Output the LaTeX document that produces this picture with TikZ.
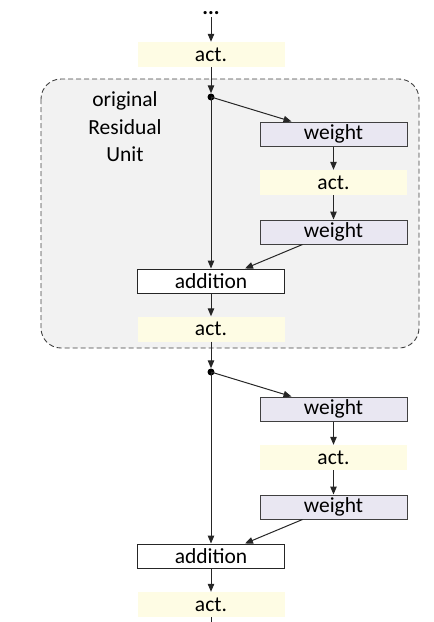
\documentclass[tikz,border=0pt]{standalone}
\usepackage{fontspec}
\setmainfont{Carlito}
\usetikzlibrary{arrows.meta}
\definecolor{actfill}{HTML}{FEFCE4}
\definecolor{wfill}{HTML}{E9E7F2}
\definecolor{unitfill}{HTML}{F2F2F2}
\definecolor{wline}{HTML}{404040}
\tikzset{
  lbl/.style={font=\fontsize{21.5}{27.5}\selectfont},
  actbox/.style={lbl, fill=actfill, minimum width=147pt, minimum height=25pt, inner sep=0pt},
  wbox/.style={lbl, fill=wfill, draw=wline, line width=1pt, minimum width=147pt, minimum height=24pt, inner sep=0pt},
  addbox/.style={lbl, fill=white, draw=black!85, line width=1pt, minimum width=147pt, minimum height=24pt, inner sep=0pt},
  dotnode/.style={circle, fill=black, inner sep=0pt, minimum size=7pt},
  conn/.style={line width=1pt, draw=black!85, -{Triangle[length=8pt,width=6.5pt]}},
  plain/.style={line width=1pt, draw=black!85},
  unit/.style={draw=black!75, dash pattern=on 5pt off 3pt, line width=0.9pt, fill=unitfill, rounded corners=20pt}
}
\begin{document}
\begin{tikzpicture}[x=1pt,y=-1pt]
\useasboundingbox (0,0) rectangle (434,622);
% dashed unit
\draw[unit] (41,79) rectangle (419,348);
\node[lbl, align=center] (title) at (125,127) {original\\Residual\\Unit};
% top
\node[inner sep=0pt, anchor=base, text height=4pt, text depth=0pt, font=\fontsize{21.5}{27.5}\selectfont\bfseries] (dots) at (211,14) {...};
\node[actbox] (a0) at (211,54.5) {act.};
% unit 1
\node[dotnode] (d1) at (211,97) {};
\node[wbox] (w1) at (333.5,134) {weight};
\node[actbox] (a1) at (333.5,182.5) {act.};
\node[wbox] (w2) at (333.5,232) {weight};
\node[addbox] (s1) at (211,281) {addition};
\node[actbox] (a2) at (211,329) {act.};
% unit 2
\node[dotnode] (d2) at (211,372) {};
\node[wbox] (w3) at (333.5,409) {weight};
\node[actbox] (a3) at (333.5,457.5) {act.};
\node[wbox] (w4) at (333.5,507) {weight};
\node[addbox] (s2) at (211,556) {addition};
\node[actbox] (a4) at (211,604.5) {act.};
\coordinate (bot) at (211,623);
% connectors
\draw[conn] ([yshift=-3pt]dots.base) -- (a0.north);
\draw[conn] (a0.south) -- (d1.north);
\draw[conn] (d1.center) -- ([xshift=32pt]w1.north west);
\draw[conn] (w1.south) -- (a1.north);
\draw[conn] (a1.south) -- (w2.north);
\draw[conn] ([xshift=-31pt]w2.south) -- ([xshift=34pt]s1.north);
\draw[conn] (d1.center) -- (s1.north);
\draw[conn] (s1.south) -- (a2.north);
\draw[conn] (a2.south) -- (d2.north);
\draw[conn] (d2.center) -- ([xshift=32pt]w3.north west);
\draw[conn] (w3.south) -- (a3.north);
\draw[conn] (a3.south) -- (w4.north);
\draw[conn] ([xshift=-31pt]w4.south) -- ([xshift=34pt]s2.north);
\draw[conn] (d2.center) -- (s2.north);
\draw[conn] (s2.south) -- (a4.north);
\draw[plain] (a4.south) -- (bot);
\end{tikzpicture}
\end{document}
